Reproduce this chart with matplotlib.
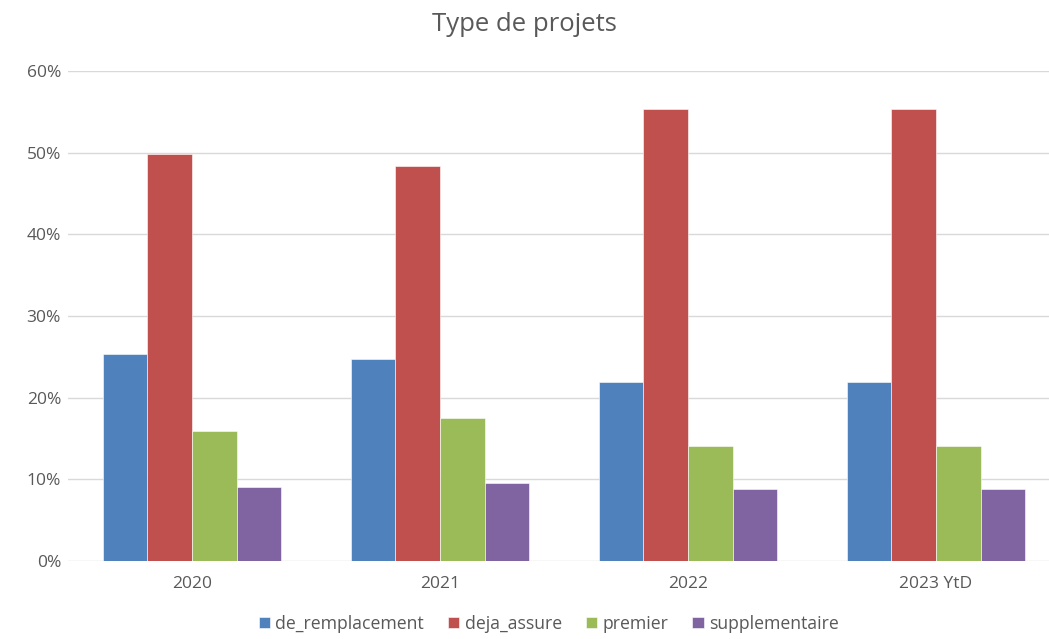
import matplotlib.pyplot as plt
import numpy as np

# data
categories = ['2020', '2021', '2022', '2023 YtD']
series_names = ['de_remplacement', 'deja_assure', 'premier', 'supplementaire']
de_remplacement = [0.254, 0.247, 0.219, 0.219]
deja_assure = [0.498, 0.484, 0.553, 0.554]
premier = [0.159, 0.175, 0.141, 0.141]
supplementaire = [0.091, 0.095, 0.088, 0.088]
colors = ['#4F81BD', '#C0504D', '#9BBB59', '#8064A2']

plt.rcParams['font.family'] = ['Open Sans', 'DejaVu Sans']

fig = plt.figure(figsize=(10.49, 6.39), dpi=100)
ax = fig.add_axes([0.0648, 0.122, 0.9352, 0.767])

x = np.arange(len(categories))
w = 0.18
values = [de_remplacement, deja_assure, premier, supplementaire]
for i, (name, vals) in enumerate(zip(series_names, values)):
    ax.bar(x + (i - 1.5) * w, vals, w, color=colors[i], label=name,
           edgecolor='white', linewidth=0.4, zorder=3)

ax.set_xlim(-0.5, 3.456)
ax.set_ylim(0, 0.6)
ax.set_yticks(np.arange(0, 0.61, 0.1))
ax.set_yticklabels([f'{int(round(v * 100))}%' for v in np.arange(0, 0.61, 0.1)])
ax.set_xticks(x)
ax.set_xticklabels(categories)
ax.grid(axis='y', color='#D9D9D9', linewidth=1, zorder=0)
for s in ax.spines.values():
    s.set_visible(False)
ax.tick_params(length=0, colors='#595959', labelsize=12.5)
ax.tick_params(axis='x', pad=11)
ax.tick_params(axis='y', pad=5)

fig.suptitle('Type de projets', y=0.982, fontsize=18.5, color='#595959')
fig.legend(loc='lower center', bbox_to_anchor=(0.523, -0.015), ncol=4, frameon=False,
           fontsize=12.7, labelcolor='#595959', handlelength=0.65, handleheight=0.65,
           handletextpad=0.3, columnspacing=1.35)

fig.savefig('out.png', dpi=100)
